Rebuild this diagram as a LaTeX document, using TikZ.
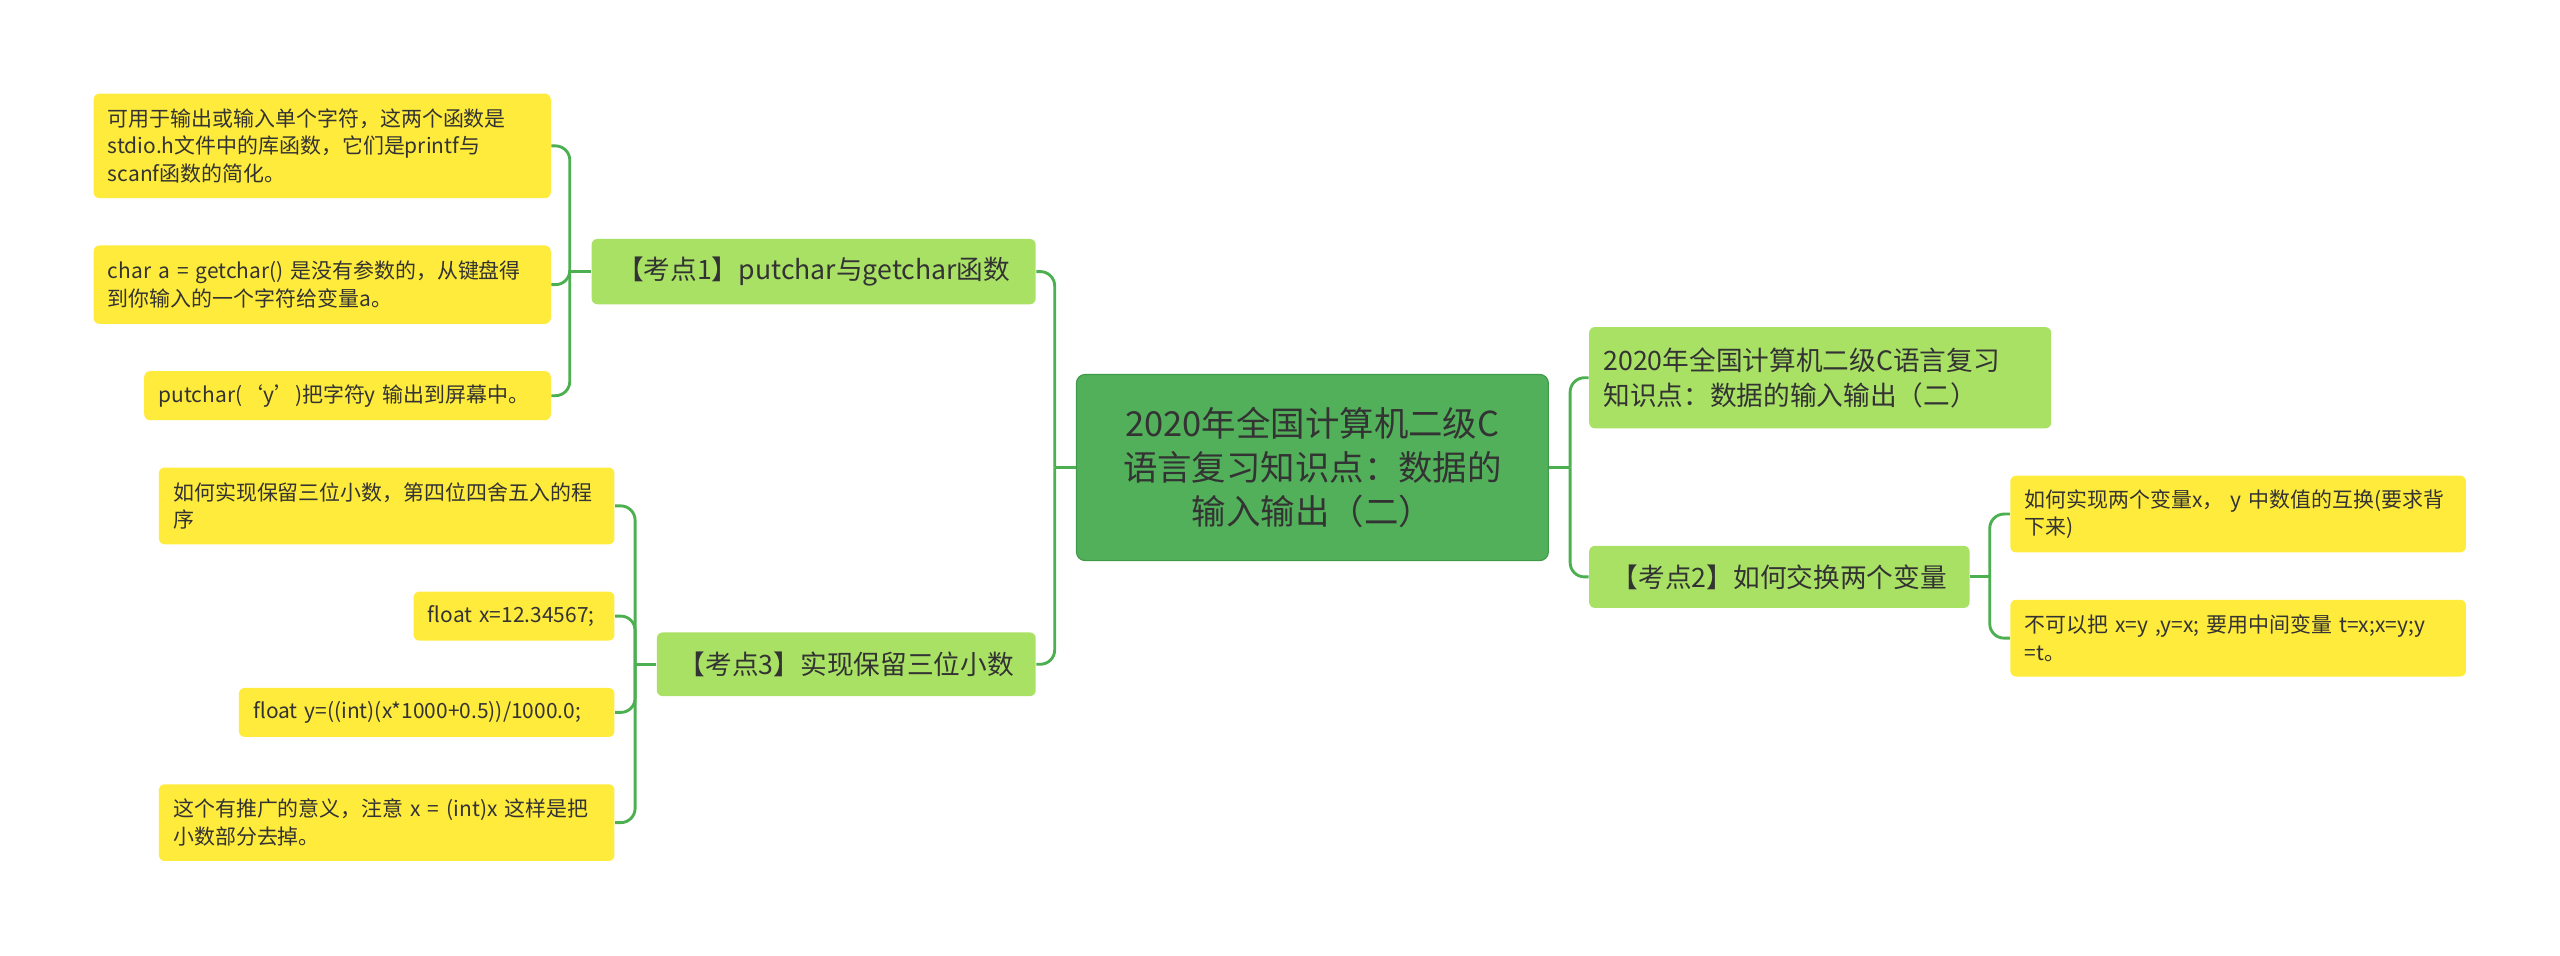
\documentclass[tikz,border=0pt]{standalone}
\usepackage{fontspec}
\setmainfont{Noto Sans CJK SC}
\definecolor{leafc}{HTML}{FFEB3B}
\definecolor{brc}{HTML}{A9E165}
\definecolor{ctr}{HTML}{52B05A}
\definecolor{ctrb}{HTML}{3E9A47}
\definecolor{lnc}{HTML}{4CAF50}
\definecolor{txt}{HTML}{333333}
\newcommand{\bx}[7]{\node[#6, anchor=north west, minimum width={(#4-#2)*0.02cm}, minimum height={(#5-#3)*0.02cm}, text width={(#4-#2)*0.02cm-10pt}] (#1) at (#2,-#3) {#7};}
\tikzset{
 leaf/.style={fill=leafc, rounded corners=2pt, inner sep=0pt, align=left, font=\fontsize{7.3}{9.6}\selectfont, text=txt},
 br/.style={fill=brc, rounded corners=2pt, inner sep=0pt, align=left, font=\fontsize{9.3}{12}\selectfont, text=txt},
 brc/.style={br, align=center},
 ctrs/.style={fill=ctr, draw=ctrb, rounded corners=3pt, inner sep=0pt, align=center, font=\fontsize{12}{15.5}\selectfont, text=txt},
 conn/.style={draw=lnc, line width=1pt, rounded corners=5pt}
}
\begin{document}
\begin{tikzpicture}[x=0.02cm,y=0.02cm]
\useasboundingbox (0,0) rectangle (1568,-585);
\bx{c}{659}{229}{948}{343}{ctrs}{2020年全国计算机二级C\\语言复习知识点：数据的\\输入输出（二）}
\bx{r1}{973}{200}{1256}{262}{br}{2020年全国计算机二级C语言复习\\知识点：数据的输入输出（二）}
\bx{r2}{973}{334}{1206}{372}{brc}{【考点2】如何交换两个变量}
\bx{r2a}{1231}{291}{1510}{338}{leaf}{如何实现两个变量x， y 中数值的互换(要求背\\下来)}
\bx{r2b}{1231}{367}{1510}{414}{leaf}{不可以把 x=y ,y=x; 要用中间变量 t=x;x=y;y\\=t。}
\bx{l1}{362}{146}{634}{186}{brc}{【考点1】putchar与getchar函数}
\bx{l1a}{57}{57}{337}{121}{leaf}{可用于输出或输入单个字符，这两个函数是\\stdio.h文件中的库函数，它们是printf与\\scanf函数的简化。}
\bx{l1b}{57}{150}{337}{198}{leaf}{char a = getchar() 是没有参数的，从键盘得\\到你输入的一个字符给变量a。}
\bx{l1c}{88}{227}{337}{257}{leaf}{putchar(‘y’)把字符y 输出到屏幕中。}
\bx{l3}{402}{387}{634}{426}{brc}{【考点3】实现保留三位小数}
\bx{l3a}{97}{286}{376}{333}{leaf}{如何实现保留三位小数，第四位四舍五入的程\\序}
\bx{l3b}{253}{362}{376}{392}{leaf}{float x=12.34567;}
\bx{l3c}{146}{421}{376}{451}{leaf}{float y=((int)(x*1000+0.5))/1000.0;}
\bx{l3d}{97}{480}{376}{527}{leaf}{这个有推广的意义，注意 x = (int)x 这样是把\\小数部分去掉。}
% connectors
\draw[conn] (c.west) -- ++(-13,0) coordinate (cl);
\draw[conn] (cl) |- (l1.east);
\draw[conn] (cl) |- (l3.east);
\draw[conn] (c.east) -- ++(13,0) coordinate (cr);
\draw[conn] (cr) |- (r1.west);
\draw[conn] (cr) |- (r2.west);
\draw[conn] (r2.east) -- ++(12,0) coordinate (r2x);
\draw[conn] (r2x) |- (r2a.west);
\draw[conn] (r2x) |- (r2b.west);
\draw[conn] (l1.west) -- ++(-13,0) coordinate (l1x);
\foreach \n in {l1a,l1b,l1c} \draw[conn] (l1x) |- (\n.east);
\draw[conn] (l3.west) -- ++(-13,0) coordinate (l3x);
\foreach \n in {l3a,l3b,l3c,l3d} \draw[conn] (l3x) |- (\n.east);
\end{tikzpicture}
\end{document}
